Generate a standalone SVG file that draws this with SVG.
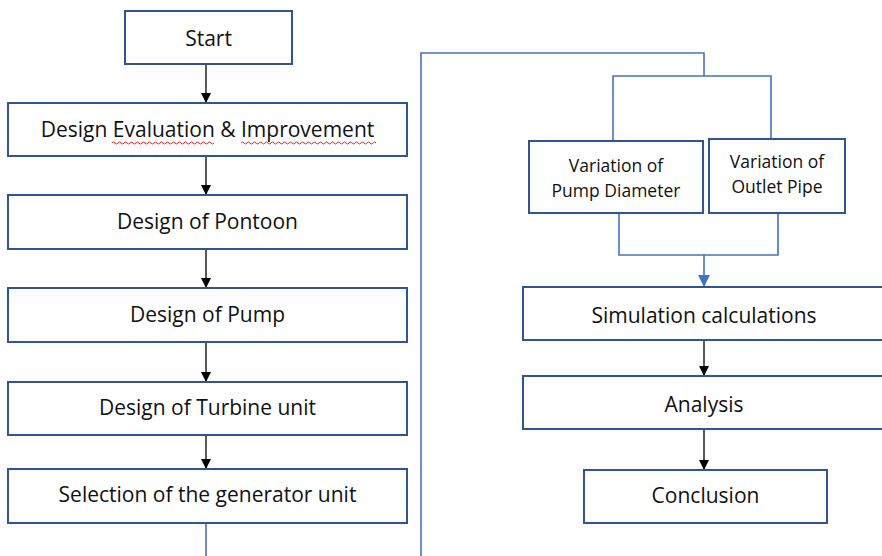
<svg xmlns="http://www.w3.org/2000/svg" width="882" height="556" viewBox="0 0 882 556">
<defs>
<marker id="ab" markerWidth="10" markerHeight="10" refX="10" refY="5" orient="auto" markerUnits="userSpaceOnUse" viewBox="0 0 10 10"><path d="M0,0 L10,5 L0,10 Z" fill="#000"/></marker>
<marker id="ablue" markerWidth="12" markerHeight="12" refX="12" refY="6" orient="auto" markerUnits="userSpaceOnUse" viewBox="0 0 12 12"><path d="M0,0 L12,6 L0,12 Z" fill="#4472C4"/></marker>
</defs>
<style>
.box{fill:#fff;stroke:#2F5597;stroke-width:2}
.t{font-family:"Open Sans","Liberation Sans",sans-serif;font-size:21px;fill:#111;text-anchor:middle}
.s{font-family:"Open Sans","Liberation Sans",sans-serif;font-size:17.5px;fill:#111;text-anchor:middle}
.k{stroke:#000;stroke-width:1.3;fill:none}
.b{stroke:#4472C4;stroke-width:1.6;fill:none}
.sq{stroke:#E02020;stroke-width:1;fill:none}
</style>
<rect width="882" height="556" fill="#fff"/>
<g id="connectors">
<line class="k" x1="206" y1="64" x2="206" y2="103" marker-end="url(#ab)"/>
<line class="k" x1="206" y1="156" x2="206" y2="195" marker-end="url(#ab)"/>
<line class="k" x1="206" y1="249" x2="206" y2="288" marker-end="url(#ab)"/>
<line class="k" x1="206" y1="342" x2="206" y2="382" marker-end="url(#ab)"/>
<line class="k" x1="206" y1="435" x2="206" y2="469" marker-end="url(#ab)"/>
<line class="b" x1="206" y1="523" x2="206" y2="556"/>
<polyline class="b" points="421,556 421,53 704,53 704,76"/>
<polyline class="b" points="613,141 613,76 771,76 771,139"/>
<polyline class="b" points="619,213 619,255 778,255 778,213"/>
<line class="b" x1="704" y1="255" x2="704" y2="287" marker-end="url(#ablue)"/>
<line class="k" x1="704" y1="340" x2="704" y2="376" marker-end="url(#ab)"/>
<line class="k" x1="704" y1="429" x2="704" y2="470" marker-end="url(#ab)"/>
</g>
<g id="start"><rect class="box" x="125" y="11" width="167" height="53"/><text class="t" x="208.5" y="46">Start</text></g>
<g id="evaluation"><rect class="box" x="8" y="103" width="399" height="53"/><text class="t" x="207.5" y="137">Design Evaluation &amp; Improvement</text>
<path class="sq" d="M112,143 q1.5,-2 3,0 t3,0 t3,0 t3,0 t3,0 t3,0 t3,0 t3,0 t3,0 t3,0 t3,0 t3,0 t3,0 t3,0 t3,0 t3,0 t3,0 t3,0 t3,0 t3,0 t3,0 t3,0 t3,0 t3,0 t3,0 t3,0 t3,0 t3,0 t3,0 t3,0 t3,0 t3,0 t3,0 t3,0"/>
<path class="sq" d="M241,143 q1.5,-2 3,0 t3,0 t3,0 t3,0 t3,0 t3,0 t3,0 t3,0 t3,0 t3,0 t3,0 t3,0 t3,0 t3,0 t3,0 t3,0 t3,0 t3,0 t3,0 t3,0 t3,0 t3,0 t3,0 t3,0 t3,0 t3,0 t3,0 t3,0 t3,0 t3,0 t3,0 t3,0 t3,0 t3,0 t3,0 t3,0 t3,0 t3,0 t3,0 t3,0 t3,0 t3,0 t3,0 t3,0 t3,0"/>
</g>
<g id="pontoon"><rect class="box" x="8" y="195" width="399" height="54"/><text class="t" x="207.5" y="229">Design of Pontoon</text></g>
<g id="pump"><rect class="box" x="8" y="288" width="399" height="54"/><text class="t" x="207.5" y="322">Design of Pump</text></g>
<g id="turbine"><rect class="box" x="8" y="382" width="399" height="53"/><text class="t" x="207.5" y="415">Design of Turbine unit</text></g>
<g id="generator"><rect class="box" x="8" y="469" width="399" height="54"/><text class="t" x="207.5" y="502">Selection of the generator unit</text></g>
<g id="pumpdiameter"><rect class="box" x="529" y="141" width="174" height="72"/><text class="s" x="616" y="172">Variation of</text><text class="s" x="616" y="197">Pump Diameter</text></g>
<g id="outletpipe"><rect class="box" x="709" y="139" width="136" height="74"/><text class="s" x="777" y="168">Variation of</text><text class="s" x="777" y="193">Outlet Pipe</text></g>
<g id="simulation"><rect class="box" x="523" y="287" width="360" height="53"/><text class="t" x="704" y="323">Simulation calculations</text></g>
<g id="analysis"><rect class="box" x="523" y="376" width="360" height="53"/><text class="t" x="704" y="412">Analysis</text></g>
<g id="conclusion"><rect class="box" x="584" y="470" width="243" height="53"/><text class="t" x="705.5" y="503">Conclusion</text></g>
</svg>
